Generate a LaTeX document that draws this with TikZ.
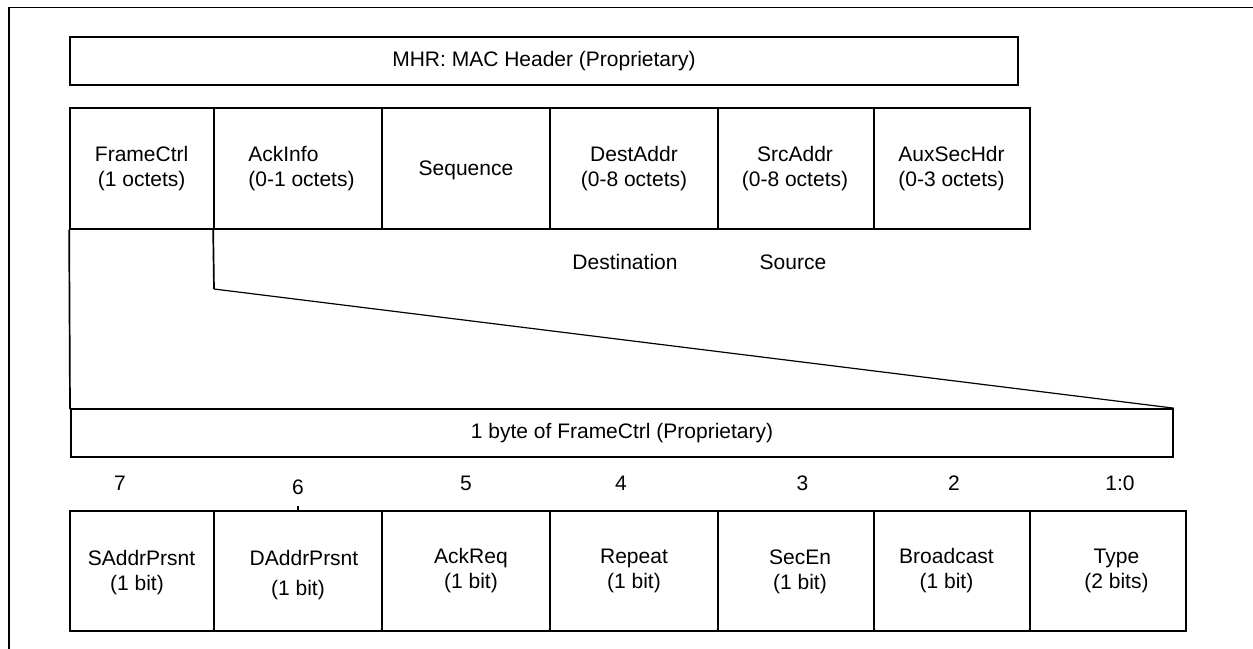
\documentclass[tikz,border=0pt]{standalone}
\usepackage{fontspec}
\setmainfont{Liberation Sans}
\usetikzlibrary{fit}
\begin{document}
\begin{tikzpicture}[x=0.5pt,y=-0.5pt,
  box/.style={draw, line width=0.85pt, inner sep=0pt},
  lbl/.style={inner sep=0pt, align=center, font=\fontsize{10.5}{12.5}\selectfont},
  thick line/.style={line width=0.85pt},
  thin/.style={line width=0.6pt}]
\useasboundingbox (0,0) rectangle (1253,648);
\clip (0,0) rectangle (1253,648);
% outer frame (only left and top edges visible)
\coordinate (ftl) at (8.7,7.5);
\coordinate (ftr) at (1270,7.5);
\coordinate (fbl) at (8.7,660);
\draw[thick line] (ftr) -- (ftl) -- (fbl);
% MAC header
\node[box, fit={(70,36.7) (1018,85)}] (mhr) {};
\node[lbl] (mhrt) at (mhr.center) {MHR: MAC Header (Proprietary)};
% header fields
\node[box, fit={(70,108.3) (214,228.7)}] (fc) {};
\node[box, fit={(214,108.3) (382,228.7)}] (ack) {};
\node[box, fit={(382,108.3) (550,228.7)}] (seq) {};
\node[box, fit={(550,108.3) (718,228.7)}] (dst) {};
\node[box, fit={(718,108.3) (874,228.7)}] (src) {};
\node[box, fit={(874,108.3) (1030,228.7)}] (aux) {};
\node[lbl] (fct) at (141.6,169) {FrameCtrl\\(1 octets)};
\node[lbl, align=left] (ackt) at (301.5,169) {AckInfo\\(0-1 octets)};
\node[lbl] (seqt) at (466,170) {Sequence};
\node[lbl] (dstt) at (634,169) {DestAddr\\(0-8 octets)};
\node[lbl] (srct) at (795,169) {SrcAddr\\(0-8 octets)};
\node[lbl] (auxt) at (951.5,169) {AuxSecHdr\\(0-3 octets)};
\node[lbl] (dlab) at (625,262) {Destination};
\node[lbl] (slab) at (793,262) {Source};
% byte box and expansion lines
\node[box, fit={(71,409) (1173,456.7)}] (byte) {};
\node[lbl] (bytet) at (byte.center) {1 byte of FrameCtrl (Proprietary)};
\coordinate (kink) at (214,289);
\coordinate (bl) at (70,409);
\draw[thick line] (fc.south west) -- (bl) -- (byte.north west);
\draw[thick line] (ack.south west) -- (kink);
\draw[thin] (kink) -- (byte.north east);
% bit numbers
\node[lbl] (b7) at (120,483) {7};
\node[lbl] (b6) at (298,487) {6};
\node[lbl] (b5) at (466,483) {5};
\node[lbl] (b4) at (621,483) {4};
\node[lbl] (b3) at (802.5,483) {3};
\node[lbl] (b2) at (954,483) {2};
\node[lbl] (b10) at (1120,483) {1:0};
% bit fields
\node[box, fit={(70,510.7) (214,630.7)}] (sa) {};
\node[box, fit={(214,510.7) (382,630.7)}] (da) {};
\node[box, fit={(382,510.7) (550,630.7)}] (ar) {};
\node[box, fit={(550,510.7) (718,630.7)}] (rp) {};
\node[box, fit={(718,510.7) (874,630.7)}] (se) {};
\node[box, fit={(874,510.7) (1030,630.7)}] (bc) {};
\node[box, fit={(1030,510.7) (1186,630.7)}] (ty) {};
\coordinate (tick) at (298,505.5);
\draw[thick line] (da.north) -- (tick);
\node[lbl] (sat1) at (141.5,557.7) {SAddrPrsnt};
\node[lbl] (sat2) at (137,585) {(1 bit)};
\node[lbl] (dat1) at (304,557.7) {DAddrPrsnt};
\node[lbl] (dat2) at (298,590) {(1 bit)};
\node[lbl] (art) at (471,571) {AckReq\\(1 bit)};
\node[lbl] (rpt) at (634,571) {Repeat\\(1 bit)};
\node[lbl] (set) at (800,572) {SecEn\\(1 bit)};
\node[lbl] (bct) at (946.5,571) {Broadcast\\(1 bit)};
\node[lbl] (tyt) at (1116.5,571) {Type\\(2 bits)};
\end{tikzpicture}
\end{document}
